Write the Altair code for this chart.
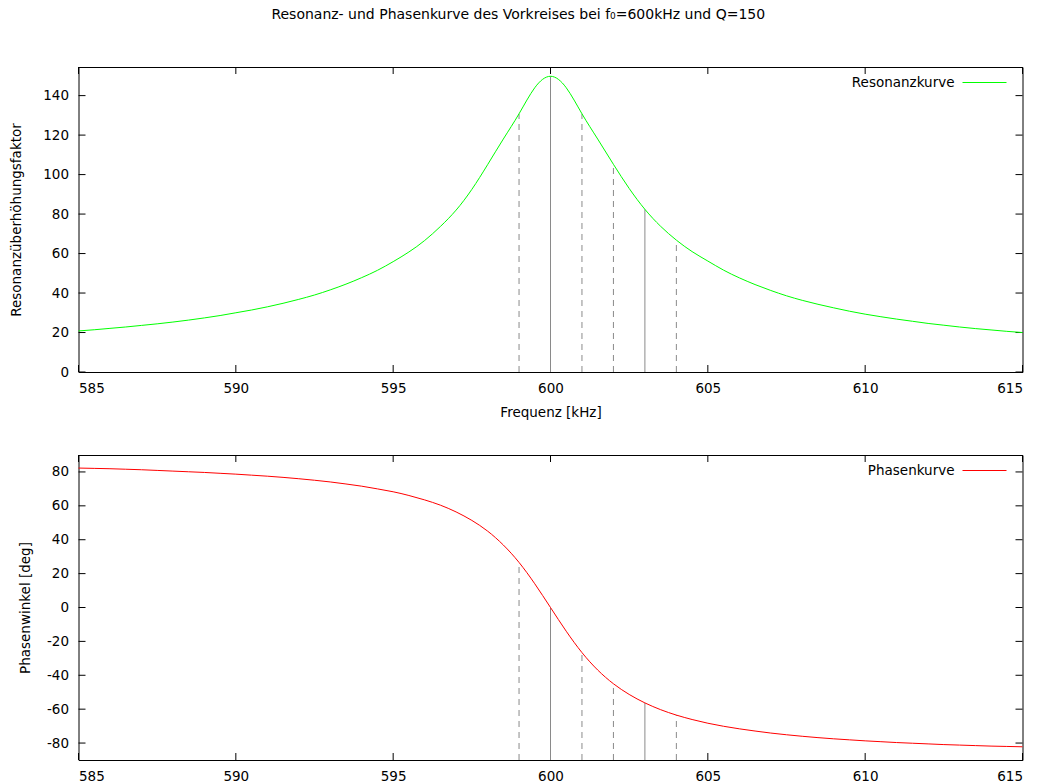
import altair as alt
import pandas as pd

# Frequency samples [kHz], 0.5 kHz apart
freq = [585.0, 585.5, 586.0, 586.5, 587.0, 587.5, 588.0, 588.5, 589.0, 589.5,
        590.0, 590.5, 591.0, 591.5, 592.0, 592.5, 593.0, 593.5, 594.0, 594.5,
        595.0, 595.5, 596.0, 596.5, 597.0, 597.5, 598.0, 598.5, 599.0, 599.5,
        600.0, 600.5, 601.0, 601.5, 602.0, 602.5, 603.0, 603.5, 604.0, 604.5,
        605.0, 605.5, 606.0, 606.5, 607.0, 607.5, 608.0, 608.5, 609.0, 609.5,
        610.0, 610.5, 611.0, 611.5, 612.0, 612.5, 613.0, 613.5, 614.0, 614.5,
        615.0]

# Resonance magnification factor
resonance = [20.8, 21.4, 22.1, 22.8, 23.6, 24.4, 25.3, 26.3, 27.4, 28.6,
             30.0, 31.4, 33.0, 34.8, 36.8, 39.0, 41.6, 44.5, 47.8, 51.5,
             55.9, 60.8, 66.6, 73.7, 82.0, 92.5, 105.0, 118.0, 130.8, 144.0,
             149.8, 144.0, 130.8, 118.0, 105.2, 93.0, 82.4, 73.8, 66.8, 61.0,
             56.2, 51.6, 47.7, 44.3, 41.3, 38.6, 36.3, 34.3, 32.5, 30.8,
             29.3, 28.0, 26.8, 25.7, 24.6, 23.7, 22.8, 22.0, 21.3, 20.6,
             20.0]

# Phase angle [deg]
phase = [82.3, 82.1, 81.9, 81.6, 81.3, 80.9, 80.5, 80.1, 79.7, 79.2,
         78.7, 78.1, 77.5, 76.8, 76.0, 75.1, 74.1, 72.9, 71.6, 70.0,
         68.3, 66.1, 63.5, 60.4, 56.4, 51.4, 45.1, 36.9, 26.6, 14.0,
         0.0, -14.0, -26.6, -36.9, -45.0, -51.3, -56.3, -60.3, -63.5, -66.1,
         -68.3, -70.1, -71.6, -72.9, -74.1, -75.1, -76.0, -76.8, -77.5, -78.1,
         -78.7, -79.2, -79.7, -80.1, -80.5, -80.9, -81.2, -81.5, -81.8, -82.0,
         -82.2]

# Marker lines at selected frequencies
marker_freq = [599, 600, 601, 602, 603, 604]
marker_style = ["dashed", "solid", "dashed", "dashed", "solid", "dashed"]
marker_res = [130.8, 149.8, 130.8, 105.2, 82.4, 66.8]
marker_phase = [26.6, 0.0, -26.6, -45.0, -56.3, -63.5]

# Tick values
x_ticks = [585, 590, 595, 600, 605, 610, 615]
res_ticks = [0, 20, 40, 60, 80, 100, 120, 140]
phase_ticks = [-80, -60, -40, -20, 0, 20, 40, 60, 80]

TITLE = "Resonanz- und Phasenkurve des Vorkreises bei f₀=600kHz und Q=150"
FONT = "DejaVu Sans"
FS = 13.5
W, H = 944, 305
TICK = 7

curve_df = pd.DataFrame({"f": freq, "res": resonance, "phase": phase})
marker_df = pd.DataFrame({"f": marker_freq, "style": marker_style,
                          "res": marker_res, "phase": marker_phase,
                          "res0": [0] * len(marker_freq), "ph0": [-90] * len(marker_freq)})
xt_df = pd.DataFrame({"v": x_ticks})

x_scale = alt.Scale(domain=[585, 615], nice=False, zero=False)
dash_scale = alt.Scale(domain=["dashed", "solid"], range=[[6, 5], [1, 0]])

# plain hyphen-minus for negative tick labels
HYPHEN = "replace(datum.label, '\u2212', '-')"


def panel(col, low, y_scale, y_ticks, y_title, title_x, x_title, color, legend_label):
    x_axis = alt.Axis(values=x_ticks, title=x_title, labelPadding=9,
                      titleY=40, titleBaseline="middle")
    y_axis = alt.Axis(values=y_ticks, title=y_title, labelPadding=10, labelExpr=HYPHEN,
                      titleX=title_x, titleY=H / 2, titleAngle=270,
                      titleAlign="center", titleBaseline="middle")
    X = lambda field: alt.X(field, type="quantitative", scale=x_scale, axis=x_axis)
    Y = lambda field: alt.Y(field, type="quantitative", scale=y_scale, axis=y_axis)

    yt_df = pd.DataFrame({"v": y_ticks})

    # inward tick marks on all four sides
    yt_left = alt.Chart(yt_df).mark_rule(color="#000", strokeWidth=1).encode(
        y=Y("v"), x=alt.value(0), x2=alt.value(TICK))
    yt_right = alt.Chart(yt_df).mark_rule(color="#000", strokeWidth=1).encode(
        y=Y("v"), x=alt.value(W - TICK), x2=alt.value(W))
    xt_bottom = alt.Chart(xt_df).mark_rule(color="#000", strokeWidth=1).encode(
        x=X("v"), y=alt.value(H - TICK), y2=alt.value(H))
    xt_top = alt.Chart(xt_df).mark_rule(color="#000", strokeWidth=1).encode(
        x=X("v"), y=alt.value(0), y2=alt.value(TICK))

    markers = alt.Chart(marker_df).mark_rule(color="#8a8a8a", strokeWidth=1).encode(
        x=X("f"), y=Y(low), y2=alt.Y2(col),
        strokeDash=alt.StrokeDash("style:N", scale=dash_scale, legend=None))

    line = alt.Chart(curve_df).mark_line(color=color, strokeWidth=1,
                                         interpolate="natural").encode(
        x=X("f"), y=Y(col))

    leg_df = pd.DataFrame({"label": [legend_label]})
    leg_text = alt.Chart(leg_df).mark_text(align="right", baseline="middle",
                                           font=FONT, fontSize=FS, color="#000").encode(
        text="label:N", x=alt.value(W - 68), y=alt.value(15.5))
    leg_line = alt.Chart(leg_df).mark_rule(color=color, strokeWidth=1).encode(
        x=alt.value(W - 60), x2=alt.value(W - 16), y=alt.value(15.5))

    return alt.layer(yt_left, yt_right, xt_bottom, xt_top, markers, line,
                     leg_text, leg_line).properties(width=W, height=H)


top = panel("res", "res0", alt.Scale(domain=[0, 154.5], nice=False), res_ticks,
            "Resonanzüberhöhungsfaktor", -62.5, "Frequenz [kHz]", "#00ff00", "Resonanzkurve")
bottom = panel("phase", "ph0", alt.Scale(domain=[-90, 90], nice=False), phase_ticks,
               "Phasenwinkel [deg]", -53.5, None, "#ff0000", "Phasenkurve")

chart = alt.vconcat(top, bottom, spacing=83, bounds="flush").properties(
    title=alt.Title(TITLE, font=FONT, fontSize=14, fontWeight="normal", color="#000",
                    anchor="middle", offset=44, dx=1.5),
    padding={"left": 8.5, "top": 8, "right": 5, "bottom": 0},
).configure_view(stroke="#000", strokeWidth=1).configure_axis(
    grid=False, domain=False, ticks=False, tickSize=0,
    labelFont=FONT, labelFontSize=FS, labelColor="#000",
    titleFont=FONT, titleFontSize=FS, titleFontWeight="normal", titleColor="#000",
)

chart.save("out.html", embed_options={"renderer": "svg", "actions": False})
